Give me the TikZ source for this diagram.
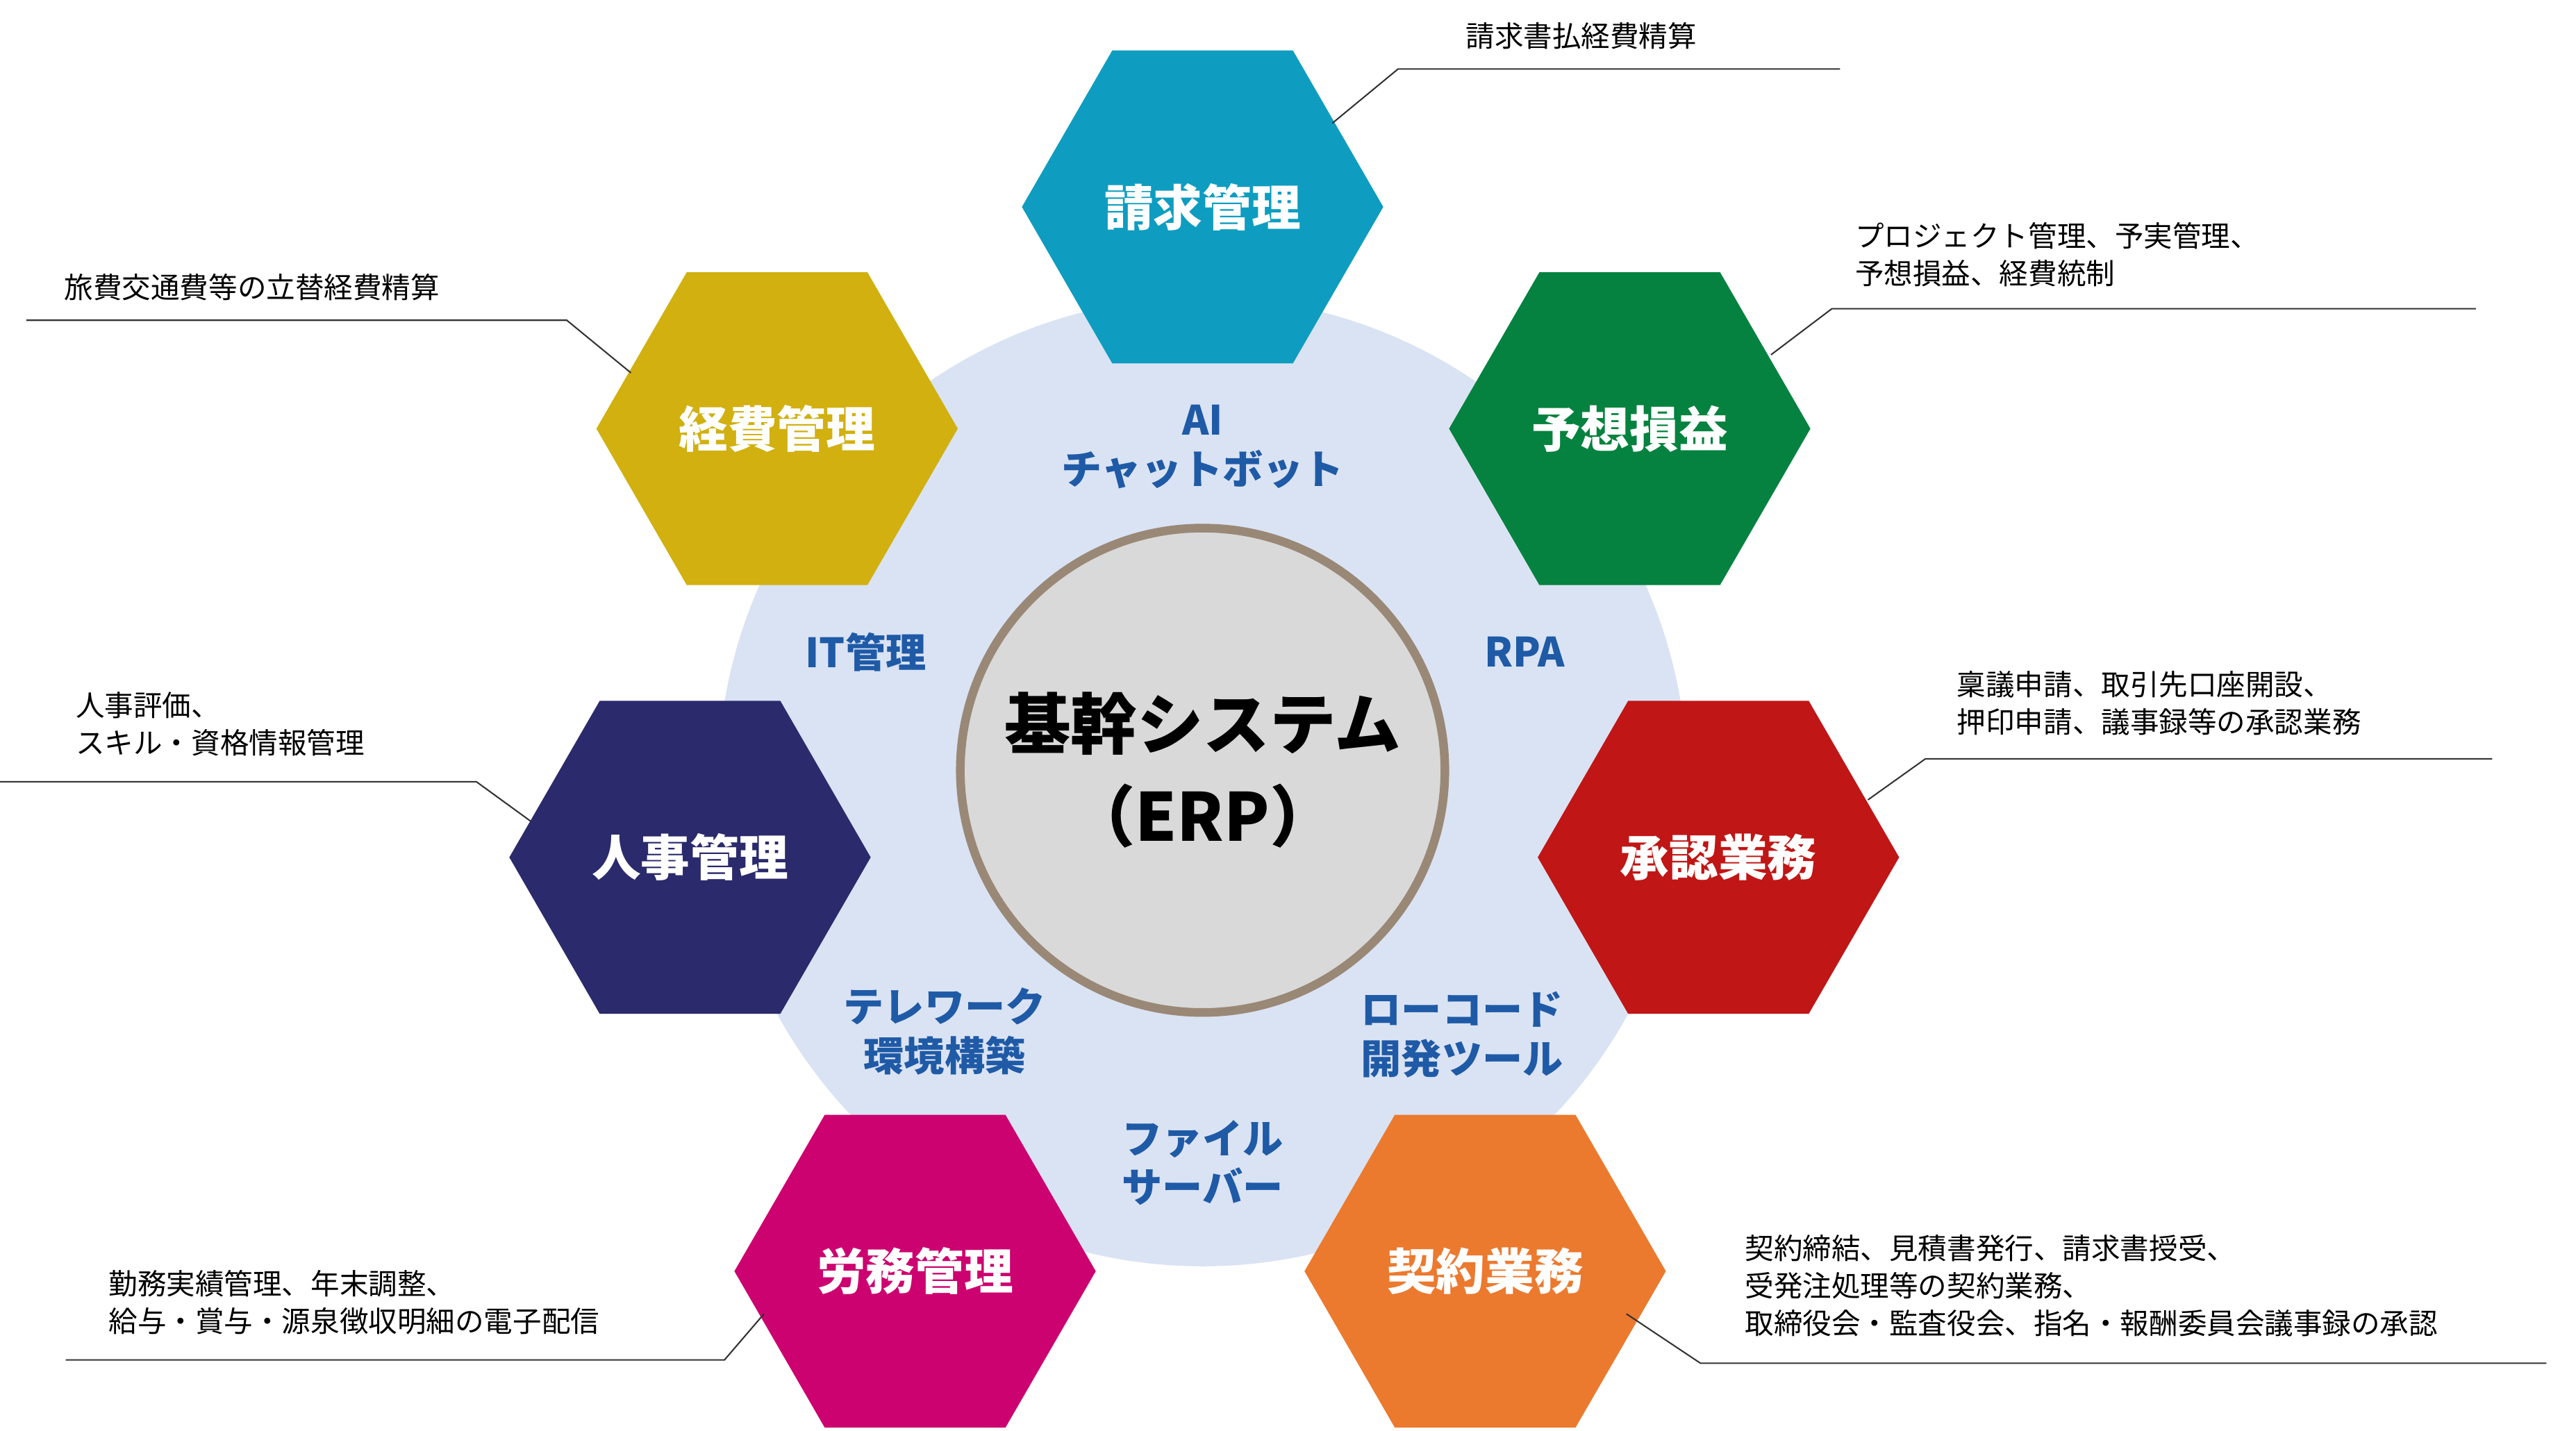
\documentclass[tikz,border=0pt]{standalone}
\usepackage{fontspec}
\setmainfont{Noto Sans CJK JP}
\usetikzlibrary{shapes.geometric}
\definecolor{bgc}{HTML}{DAE3F3}
\definecolor{lbl}{HTML}{1F5AA6}
\definecolor{cteal}{HTML}{0E9DC0}
\definecolor{cgreen}{HTML}{05823F}
\definecolor{cred}{HTML}{C01616}
\definecolor{corange}{HTML}{EB7A2F}
\definecolor{cmag}{HTML}{CC0270}
\definecolor{cnavy}{HTML}{2A2A6C}
\definecolor{cyel}{HTML}{D1B010}
\tikzset{
 hexa/.style={regular polygon,regular polygon sides=6,minimum size=4.4cm,inner sep=0pt,draw=none,text=white,font=\fontsize{17}{20}\selectfont\bfseries},
 blab/.style={text=lbl,align=center,font=\fontsize{14}{17}\selectfont\bfseries},
 note/.style={anchor=west,align=left,font=\fontsize{10}{13}\selectfont},
 lead/.style={draw=black!80,line width=0.5pt}
}
\begin{document}
\begin{tikzpicture}[x=0.02cm,y=-0.02cm]
\useasboundingbox (0,0) rectangle (1568,871);
\fill[bgc] (732,476) circle (295);
\node[circle,minimum size=5.9cm,fill=black!15,draw=black!55!brown!60,line width=3pt,align=center,font=\fontsize{23}{32}\selectfont\bfseries] (c) at (732,469) {基幹システム\\（ERP）};
\node[hexa,fill=cteal] (h1) at (732,126) {請求管理};
\node[hexa,fill=cgreen] (h2) at (992,261) {予想損益};
\node[hexa,fill=cred] (h3) at (1046,522) {承認業務};
\node[hexa,fill=corange] (h4) at (904,774) {契約業務};
\node[hexa,fill=cmag] (h5) at (557,774) {労務管理};
\node[hexa,fill=cnavy] (h6) at (420,522) {人事管理};
\node[hexa,fill=cyel] (h7) at (473,261) {経費管理};
\node[blab] (b1) at (732,272) {AI\\チャットボット};
\node[blab] (b2) at (527,397) {IT管理};
\node[blab] (b3) at (928,397) {RPA};
\node[blab] (b4) at (575,628) {テレワーク\\環境構築};
\node[blab] (b5) at (890,630) {ローコード\\開発ツール};
\node[blab] (b6) at (732,708) {ファイル\\サーバー};
% callouts
\coordinate (p1) at (811,75); \draw[lead] (p1) -- (851,42) -- (1120,42);
\node[note] (n1) at (886,22) {請求書払経費精算};
\coordinate (p2) at (1078,216); \draw[lead] (p2) -- (1115,188) -- (1507,188);
\node[note] (n2) at (1123,155) {プロジェクト管理、予実管理、\\予想損益、経費統制};
\coordinate (p3) at (1137,487); \draw[lead] (p3) -- (1172,462) -- (1517,462);
\node[note] (n3) at (1185,428) {稟議申請、取引先口座開設、\\押印申請、議事録等の承認業務};
\coordinate (p4) at (990,800); \draw[lead] (p4) -- (1035,830) -- (1550,830);
\node[note] (n4) at (1056,783) {契約締結、見積書発行、請求書授受、\\受発注処理等の契約業務、\\取締役会・監査役会、指名・報酬委員会議事録の承認};
\coordinate (p5) at (465,800); \draw[lead] (p5) -- (441,828) -- (40,828);
\node[note] (n5) at (60,793) {勤務実績管理、年末調整、\\給与・賞与・源泉徴収明細の電子配信};
\coordinate (p6) at (323,500); \draw[lead] (p6) -- (290,476) -- (0,476);
\node[note] (n6) at (40,441) {人事評価、\\スキル・資格情報管理};
\coordinate (p7) at (384,227); \draw[lead] (p7) -- (345,195) -- (16,195);
\node[note] (n7) at (33,175) {旅費交通費等の立替経費精算};
\end{tikzpicture}
\end{document}
